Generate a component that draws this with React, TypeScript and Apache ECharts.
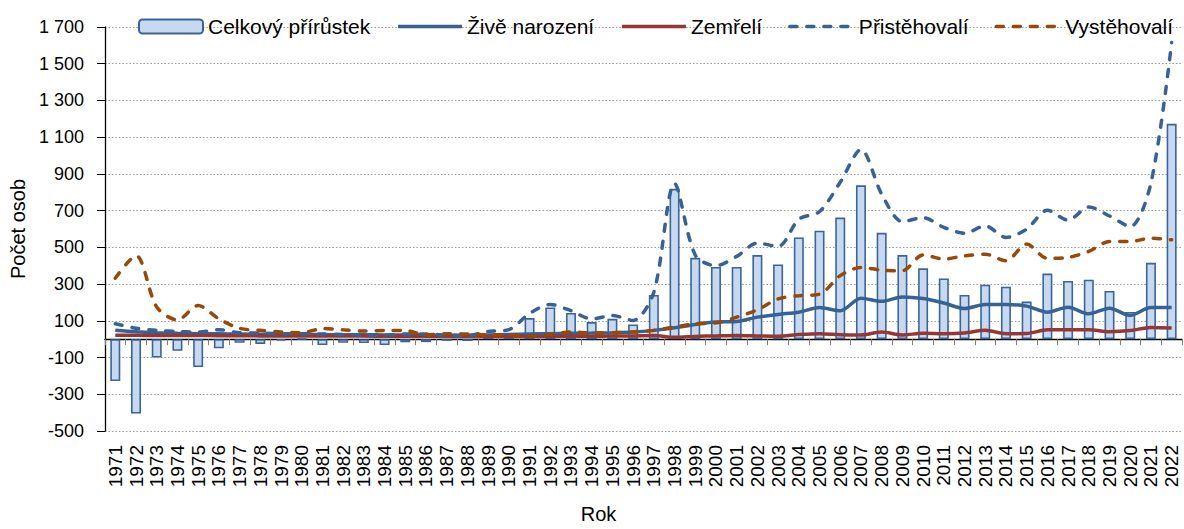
import React, { useEffect, useRef } from "react";
import * as echarts from "echarts";

const years = [
  "1971", "1972", "1973", "1974", "1975", "1976", "1977", "1978", "1979", "1980",
  "1981", "1982", "1983", "1984", "1985", "1986", "1987", "1988", "1989", "1990",
  "1991", "1992", "1993", "1994", "1995", "1996", "1997", "1998", "1999", "2000",
  "2001", "2002", "2003", "2004", "2005", "2006", "2007", "2008", "2009", "2010",
  "2011", "2012", "2013", "2014", "2015", "2016", "2017", "2018", "2019", "2020",
  "2021", "2022",
];

const celkovyPrirustek = [
  -228, -405, -100, -63, -152, -50, -20, -26, -8, 2,
  -32, -20, -21, -32, -17, -16, -9, -10, 10, 25,
  115, 173, 143, 93, 111, 80, 241, 819, 443, 393,
  393, 458, 407, 554, 591, 662, 838, 579, 458, 386,
  331, 241, 297, 286, 205, 357, 317, 324, 263, 148,
  416, 1173,
];

const ziveNarozeni = [
  48, 40, 35, 32, 30, 29, 28, 27, 26, 25,
  25, 24, 24, 23, 23, 22, 22, 22, 23, 26,
  28, 30, 32, 33, 35, 39, 48, 62, 80, 93,
  96, 120, 135, 147, 172, 155, 223, 206, 230, 221,
  197, 167, 189, 189, 180, 147, 174, 138, 169, 129,
  172, 172,
];

const zemreli = [
  21, 21, 20, 20, 20, 19, 19, 18, 18, 18,
  17, 17, 17, 16, 16, 16, 15, 15, 15, 15,
  15, 15, 16, 16, 17, 18, 20, 10, 15, 18,
  20, 18, 16, 25, 30, 24, 23, 39, 23, 32,
  30, 34, 48, 30, 31, 51, 52, 52, 41, 47,
  64, 61,
];

const pristehovali = [
  84, 60, 48, 42, 39, 52, 35, 33, 30, 30,
  28, 26, 22, 22, 28, 28, 22, 20, 42, 52,
  140, 189, 155, 110, 129, 102, 256, 848, 458, 400,
  451, 523, 505, 653, 695, 855, 1033, 790, 640, 662,
  609, 577, 617, 554, 599, 702, 648, 720, 671, 613,
  850, 1615,
];

const vystehovali = [
  332, 455, 175, 105, 183, 111, 59, 48, 39, 35,
  58, 51, 44, 48, 47, 24, 30, 28, 24, 23,
  18, 27, 39, 34, 35, 39, 48, 66, 84, 89,
  120, 160, 219, 237, 245, 346, 391, 376, 373, 459,
  436, 454, 463, 427, 518, 440, 445, 478, 532, 532,
  550, 541,
];

const seriesNames = ["Celkový přírůstek", "Živě narození", "Zemřelí", "Přistěhovalí", "Vystěhovalí"];

const FONT = "'Liberation Sans', Arial, sans-serif";
const DASH = [7, 10];

function fmt(v: number): string {
  const a = Math.abs(v);
  const s = a >= 1000 ? Math.floor(a / 1000) + " " + String(a % 1000).padStart(3, "0") : String(a);
  return (v < 0 ? "-" : "") + s;
}

export default function App() {
  const ref = useRef<HTMLDivElement>(null);
  useEffect(() => {
    document.body.style.margin = "0";
    const chart = echarts.init(ref.current!, null, { renderer: "svg" });
    const lineBase = (name: string, data: number[], color: string, dashed: boolean) => ({
      name,
      type: "line",
      data,
      xAxisIndex: 0,
      smooth: 0.3,
      symbol: "none",
      showSymbol: false,
      itemStyle: { color },
      lineStyle: { width: 3.5, color, type: dashed ? DASH : "solid", cap: dashed ? "round" : "butt" },
    });
    const legendColors = ["", "#386194", "#953735", "#386194", "#984807"];
    chart.setOption({
      animation: false,
      textStyle: { fontFamily: FONT },
      legend: {
        data: seriesNames.map((n, i) =>
          i === 0
            ? { name: n }
            : {
                name: n,
                itemStyle: { opacity: 0 },
                lineStyle: {
                  width: 3.5,
                  color: legendColors[i],
                  type: i >= 3 ? DASH : "solid",
                  cap: i >= 3 ? "round" : "butt",
                },
              }
        ),
        left: 133,
        top: 11,
        itemWidth: 64,
        itemHeight: 14,
        itemGap: 26,
        textStyle: { fontSize: 21, color: "#000", fontFamily: FONT },
      },
      grid: { left: 96, right: 2, top: 27, bottom: 96 },
      xAxis: [
        {
          type: "category",
          data: years,
          boundaryGap: true,
          axisLine: { onZero: true, lineStyle: { color: "#000", width: 1.3 } },
          axisTick: { show: true, interval: 0, length: 6, lineStyle: { color: "#808080" } },
          axisLabel: { show: false },
          splitLine: { show: false },
        },
        {
          type: "category",
          data: years,
          position: "bottom",
          boundaryGap: true,
          axisLine: { show: false, onZero: false },
          axisTick: { show: false },
          axisLabel: { interval: 0, rotate: 90, fontSize: 19, color: "#000", margin: 14, fontFamily: FONT },
          splitLine: { show: false },
          name: "Rok",
          nameLocation: "middle",
          nameGap: 73,
          nameTextStyle: { fontSize: 20, color: "#000", padding: [0, 90, 0, 0], fontFamily: FONT },
        },
      ],
      yAxis: {
        type: "value",
        min: -500,
        max: 1700,
        interval: 200,
        axisLine: { show: true, lineStyle: { color: "#000", width: 1.3 } },
        axisTick: { show: true, length: 8, lineStyle: { color: "#000" } },
        axisLabel: { fontSize: 18, color: "#000", margin: 21, formatter: fmt, fontFamily: FONT },
        splitLine: { show: true, lineStyle: { color: "#999", type: [1.5, 2], width: 1 } },
        name: "Počet osob",
        nameLocation: "middle",
        nameGap: 62,
        nameTextStyle: { fontSize: 20, color: "#000", fontFamily: FONT },
      },
      series: [
        {
          name: seriesNames[0],
          type: "bar",
          data: celkovyPrirustek,
          xAxisIndex: 0,
          barWidth: 10,
          itemStyle: { color: "#c6d9f1", borderColor: "#3b6598", borderWidth: 1.6 },
        },
        lineBase(seriesNames[1], ziveNarozeni, "#386194", false),
        lineBase(seriesNames[2], zemreli, "#953735", false),
        lineBase(seriesNames[3], pristehovali, "#386194", true),
        lineBase(seriesNames[4], vystehovali, "#984807", true),
      ],
    });
    return () => chart.dispose();
  }, []);
  return <div ref={ref} style={{ width: 1184, height: 529 }} />;
}
